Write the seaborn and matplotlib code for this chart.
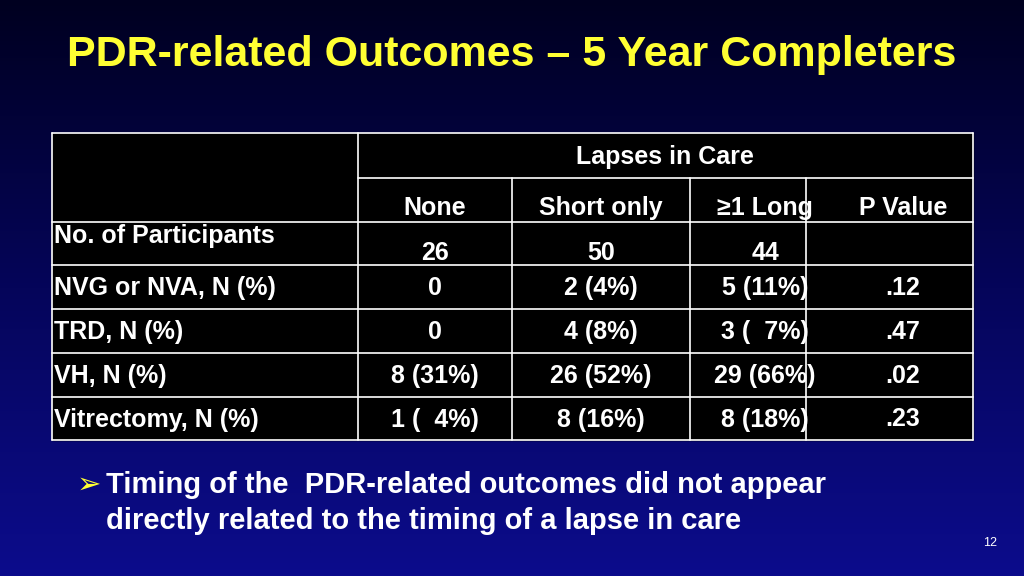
import numpy as np
import matplotlib
matplotlib.use("Agg")
import matplotlib.pyplot as plt
import seaborn as sns

sns.set_style("white")
plt.rcParams["font.family"] = "Liberation Sans"

title = "PDR-related Outcomes – 5 Year Completers"
group_header = "Lapses in Care"
col_labels = ["None", "Short only", "≥1 Long", "P Value"]
row_labels = ["No. of Participants", "NVG or NVA, N (%)", "TRD, N (%)", "VH, N (%)", "Vitrectomy, N (%)"]
none_vals = ["26", "0", "0", "8 (31%)", "1 (  4%)"]
short_vals = ["50", "2 (4%)", "4 (8%)", "26 (52%)", "8 (16%)"]
long_vals = ["44", "5 (11%)", "3 (  7%)", "29 (66%)", "8 (18%)"]
p_vals = ["", ".12", ".47", ".02", ".23"]
bullet_lines = ["Timing of the  PDR-related outcomes did not appear",
                "directly related to the timing of a lapse in care"]
page_no = "12"

fig = plt.figure(figsize=(10.24, 5.76), dpi=100)
ax = fig.add_axes([0, 0, 1, 1])
ax.set_xlim(0, 1024)
ax.set_ylim(576, 0)
ax.axis("off")

# background gradient
grad = np.linspace(0, 1, 256).reshape(-1, 1)
cmap = matplotlib.colors.LinearSegmentedColormap.from_list("bg", ["#000020", "#05055a", "#0c0c8c"])
ax.imshow(grad, extent=[0, 1024, 576, 0], aspect="auto", cmap=cmap, zorder=0)

ax.text(512, 55, title, color="#ffff33", fontsize=31, fontweight="bold", ha="center", va="center")

# table geometry
xs = [52, 358, 512, 690, 806, 973]
ys = [133, 178, 222, 265, 309, 353, 397, 440]
ax.add_patch(plt.Rectangle((xs[0], ys[0]), xs[-1] - xs[0], ys[-1] - ys[0], color="black", zorder=1))
kw = dict(color="white", lw=1.2, zorder=2)
ax.plot([xs[0], xs[-1]], [ys[0], ys[0]], **kw)
ax.plot([xs[1], xs[-1]], [ys[1], ys[1]], **kw)
for y in ys[2:]:
    ax.plot([xs[0], xs[-1]], [y, y], **kw)
ax.plot([xs[0], xs[0]], [ys[0], ys[-1]], **kw)
ax.plot([xs[1], xs[1]], [ys[0], ys[-1]], **kw)
ax.plot([xs[-1], xs[-1]], [ys[0], ys[-1]], **kw)
for x in xs[2:5]:
    ax.plot([x, x], [ys[1], ys[-1]], **kw)

tk = dict(color="white", fontsize=18, fontweight="bold", va="center", zorder=3)
ax.text(665, 157, group_header, ha="center", **tk)
centers = [435, 601, 765, 903]
for c, lab in zip(centers, col_labels):
    ax.text(c, 208, lab, ha="center", **tk)

for i, lab in enumerate(row_labels):
    yc = (ys[i + 2] + ys[i + 3]) / 2 + 1
    ax.text(54, yc - (8 if i == 0 else 0), lab, ha="left", **tk)
    ynum = yc + (8 if i == 0 else 0)
    for c, v in zip(centers, [none_vals[i], short_vals[i], long_vals[i], p_vals[i]]):
        ax.text(c, ynum, v, ha="center", **tk)

ax.text(77, 485, "➢", color="#ffff33", fontsize=21, fontfamily="DejaVu Sans", va="center", ha="left")
ax.text(106, 485, bullet_lines[0], color="white", fontsize=21, fontweight="bold", va="center")
ax.text(106, 521, bullet_lines[1], color="white", fontsize=21, fontweight="bold", va="center")
ax.text(990, 543, page_no, color="white", fontsize=9, ha="center", va="center")

fig.savefig("out.png", dpi=100)
